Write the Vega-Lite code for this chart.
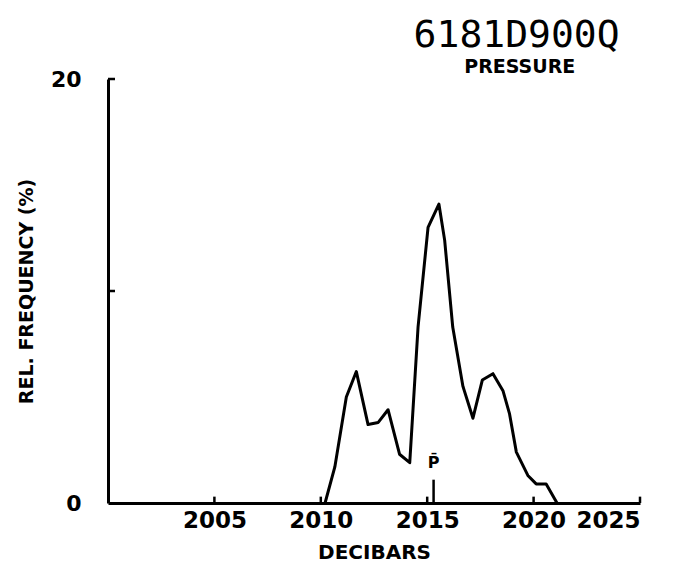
{
  "$schema": "https://vega.github.io/schema/vega-lite/v6.json",
  "autosize": "none",
  "width": 532,
  "height": 424,
  "padding": {"left": 108, "top": 79, "right": 33, "bottom": 72},
  "background": "white",
  "config": {"view": {"stroke": null}},
  "datasets": {
    "hist": [
      {"p": 2010.2, "f": 0.0},
      {"p": 2010.66, "f": 1.7},
      {"p": 2011.2, "f": 5.0},
      {"p": 2011.67, "f": 6.2},
      {"p": 2012.22, "f": 3.7},
      {"p": 2012.7, "f": 3.8},
      {"p": 2013.16, "f": 4.4},
      {"p": 2013.7, "f": 2.3},
      {"p": 2014.18, "f": 1.9},
      {"p": 2014.57, "f": 8.3},
      {"p": 2015.04, "f": 13.0},
      {"p": 2015.55, "f": 14.1},
      {"p": 2015.82, "f": 12.4},
      {"p": 2016.2, "f": 8.3},
      {"p": 2016.68, "f": 5.5},
      {"p": 2017.15, "f": 4.0},
      {"p": 2017.59, "f": 5.8},
      {"p": 2018.09, "f": 6.1},
      {"p": 2018.56, "f": 5.3},
      {"p": 2018.87, "f": 4.2},
      {"p": 2019.19, "f": 2.4},
      {"p": 2019.73, "f": 1.3},
      {"p": 2020.12, "f": 0.9},
      {"p": 2020.59, "f": 0.9},
      {"p": 2021.1, "f": 0.0}
    ],
    "mean": [{"p": 2015.3, "y0": 0, "y1": 1.1, "ty": 1.5, "label": "P̄"}],
    "xticks": [
      {"p": 2005, "y0": 0, "y1": 0.3},
      {"p": 2010, "y0": 0, "y1": 0.3},
      {"p": 2015, "y0": 0, "y1": 0.3},
      {"p": 2020, "y0": 0, "y1": 0.3},
      {"p": 2025, "y0": 0, "y1": 0.3}
    ],
    "yticks": [
      {"x0": 2000, "x1": 2000.33, "f": 10},
      {"x0": 2000, "x1": 2000.33, "f": 20}
    ],
    "heading": [{"title": "6181D900Q", "subtitle": "PRESSURE"}]
  },
  "layer": [
    {
      "data": {"name": "hist"},
      "mark": {"type": "line", "color": "black", "strokeWidth": 3, "strokeJoin": "round"},
      "encoding": {
        "x": {
          "field": "p", "type": "quantitative",
          "scale": {"domain": [2000, 2025], "nice": false, "zero": false},
          "axis": {
            "title": "DECIBARS",
            "values": [2005, 2010, 2015, 2020, 2025],
            "format": "d",
            "grid": false,
            "ticks": false,
            "domainColor": "black", "domainWidth": 3,
            "labelFont": "DejaVu Sans", "labelFontSize": 23, "labelFontWeight": "bold", "labelColor": "black",
            "labelPadding": 6,
            "titleFont": "DejaVu Sans", "titleFontSize": 20, "titleFontWeight": "bold", "titleColor": "black",
            "titlePadding": 10
          }
        },
        "y": {
          "field": "f", "type": "quantitative",
          "scale": {"domain": [0, 20], "nice": false},
          "axis": {
            "title": "REL. FREQUENCY (%)",
            "values": [0, 20],
            "grid": false,
            "ticks": false,
            "domainColor": "black", "domainWidth": 3,
            "labelFont": "DejaVu Sans", "labelFontSize": 22, "labelFontWeight": "bold", "labelColor": "black",
            "labelPadding": 27,
            "titleFont": "DejaVu Sans", "titleFontSize": 19, "titleFontWeight": "bold", "titleColor": "black",
            "titlePadding": 14
          }
        }
      }
    },
    {
      "data": {"name": "xticks"},
      "mark": {"type": "rule", "color": "black", "strokeWidth": 2.5},
      "encoding": {
        "x": {"field": "p", "type": "quantitative"},
        "y": {"field": "y0", "type": "quantitative"},
        "y2": {"field": "y1"}
      }
    },
    {
      "data": {"name": "yticks"},
      "mark": {"type": "rule", "color": "black", "strokeWidth": 2.5},
      "encoding": {
        "x": {"field": "x0", "type": "quantitative"},
        "x2": {"field": "x1"},
        "y": {"field": "f", "type": "quantitative"}
      }
    },
    {
      "data": {"name": "mean"},
      "mark": {"type": "rule", "color": "black", "strokeWidth": 2.5},
      "encoding": {
        "x": {"field": "p", "type": "quantitative"},
        "y": {"field": "y0", "type": "quantitative"},
        "y2": {"field": "y1"}
      }
    },
    {
      "data": {"name": "mean"},
      "mark": {"type": "text", "color": "black", "font": "DejaVu Sans", "fontSize": 16, "fontWeight": "bold", "baseline": "bottom"},
      "encoding": {
        "x": {"field": "p", "type": "quantitative"},
        "y": {"field": "ty", "type": "quantitative"},
        "text": {"field": "label"}
      }
    },
    {
      "data": {"name": "heading"},
      "mark": {"type": "text", "color": "black", "font": "DejaVu Sans Mono", "fontSize": 38, "align": "center", "baseline": "alphabetic"},
      "encoding": {
        "x": {"datum": 2019.2, "type": "quantitative"},
        "y": {"datum": 21.5, "type": "quantitative"},
        "text": {"field": "title"}
      }
    },
    {
      "data": {"name": "heading"},
      "mark": {"type": "text", "color": "black", "font": "DejaVu Sans", "fontSize": 19, "fontWeight": "bold", "align": "center", "baseline": "alphabetic"},
      "encoding": {
        "x": {"datum": 2019.35, "type": "quantitative"},
        "y": {"datum": 20.28, "type": "quantitative"},
        "text": {"field": "subtitle"}
      }
    }
  ]
}
